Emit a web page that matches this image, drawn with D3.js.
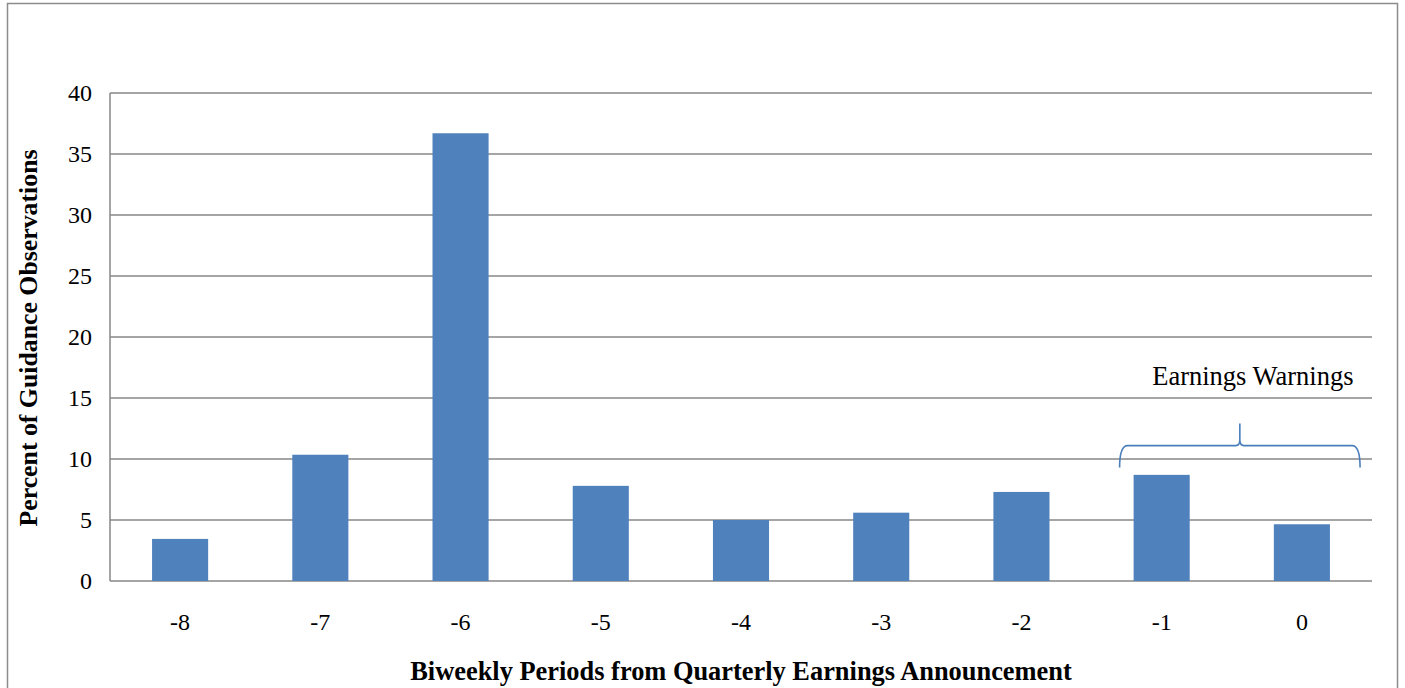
<!DOCTYPE html>
<html>
<head>
<meta charset="utf-8">
<script src="https://cdn.jsdelivr.net/npm/d3@7"></script>
<style>
  html, body { margin: 0; padding: 0; background: #fff; }
  svg { display: block; }
  text { font-family: "Liberation Serif", "Times New Roman", serif; fill: #000; }
</style>
</head>
<body>
<svg id="chart" width="1405" height="688"></svg>
<script>
const categories = ["-8", "-7", "-6", "-5", "-4", "-3", "-2", "-1", "0"];
const values = [3.45, 10.35, 36.7, 7.8, 5.0, 5.6, 7.3, 8.7, 4.65];
const yTicks = [0, 5, 10, 15, 20, 25, 30, 35, 40];
const yTitle = "Percent of Guidance Observations";
const xTitle = "Biweekly Periods from Quarterly Earnings Announcement";
const annotationText = "Earnings Warnings";
const annotatedCategories = ["-1", "0"];

const svg = d3.select("#chart");
const W = 1405, H = 688;
const margin = { left: 110, right: 33, top: 93, bottom: 107 };
const plotW = W - margin.left - margin.right;
const plotH = H - margin.top - margin.bottom;

// outer frame
svg.append("rect")
  .attr("x", 7.5).attr("y", 3.5)
  .attr("width", 1390).attr("height", 720)
  .attr("fill", "none").attr("stroke", "#8c8c8c").attr("stroke-width", 1.5);

const g = svg.append("g").attr("transform", `translate(${margin.left},${margin.top})`);

const x = d3.scaleBand().domain(categories).range([0, plotW]).paddingInner(0.6).paddingOuter(0.3);
const y = d3.scaleLinear().domain([0, 40]).range([plotH, 0]);

// gridlines
g.append("g").selectAll("line").data(yTicks).join("line")
  .attr("x1", 0).attr("x2", plotW)
  .attr("y1", d => y(d)).attr("y2", d => y(d))
  .attr("stroke", "#878787").attr("stroke-width", 1.5);

// y axis line
g.append("line").attr("x1", 0).attr("x2", 0).attr("y1", 0).attr("y2", plotH)
  .attr("stroke", "#878787").attr("stroke-width", 1.5);

// bars
g.append("g").selectAll("rect").data(categories).join("rect")
  .attr("x", d => x(d))
  .attr("y", (d, i) => y(values[i]))
  .attr("width", x.bandwidth())
  .attr("height", (d, i) => plotH - y(values[i]))
  .attr("fill", "#4f81bd");

// y axis labels
const yAxis = d3.axisLeft(y).tickValues(yTicks).tickSize(0).tickPadding(18);
const ya = g.append("g").call(yAxis);
ya.select(".domain").remove();
ya.selectAll("text").attr("font-size", 24).attr("font-family", "Liberation Serif, serif").attr("fill", "#000");

// x axis labels
const xAxis = d3.axisBottom(x).tickSize(0).tickPadding(32);
const xa = g.append("g").attr("transform", `translate(0,${plotH})`).call(xAxis);
xa.select(".domain").remove();
xa.selectAll("text").attr("font-size", 24).attr("font-family", "Liberation Serif, serif").attr("fill", "#000");

// axis titles
svg.append("text")
  .attr("transform", `translate(37,${margin.top + plotH / 2 + 1}) rotate(-90)`)
  .attr("text-anchor", "middle")
  .attr("font-size", 25.8).attr("font-weight", "bold")
  .text(yTitle);

svg.append("text")
  .attr("x", 741).attr("y", 680)
  .attr("text-anchor", "middle")
  .attr("font-size", 26.4).attr("font-weight", "bold")
  .text(xTitle);

// brace annotation
const step = x.step();
const bx0 = x(annotatedCategories[0]) - 0.1 * step;
const bx1 = x(annotatedCategories[1]) + x.bandwidth() + 0.215 * step;
const bmid = (bx0 + bx1) / 2;
const yEnd = y(9.3), yBar = y(11.1), yTip = y(12.9);
const r = 8;
const path = d3.path();
path.moveTo(bx0, yEnd);
path.quadraticCurveTo(bx0, yBar, bx0 + r, yBar);
path.lineTo(bmid - 4, yBar);
path.quadraticCurveTo(bmid, yBar, bmid, yBar - 6);
path.lineTo(bmid, yTip);
path.moveTo(bmid, yBar - 6);
path.quadraticCurveTo(bmid, yBar, bmid + 4, yBar);
path.lineTo(bx1 - r, yBar);
path.quadraticCurveTo(bx1, yBar, bx1, yEnd);
g.append("path").attr("d", path.toString())
  .attr("fill", "none").attr("stroke", "#4a7ebb").attr("stroke-width", 1.6);

g.append("text")
  .attr("x", bmid + 13).attr("y", y(16.0) - 1)
  .attr("text-anchor", "middle")
  .attr("font-size", 26.5)
  .text(annotationText);
</script>
</body>
</html>
